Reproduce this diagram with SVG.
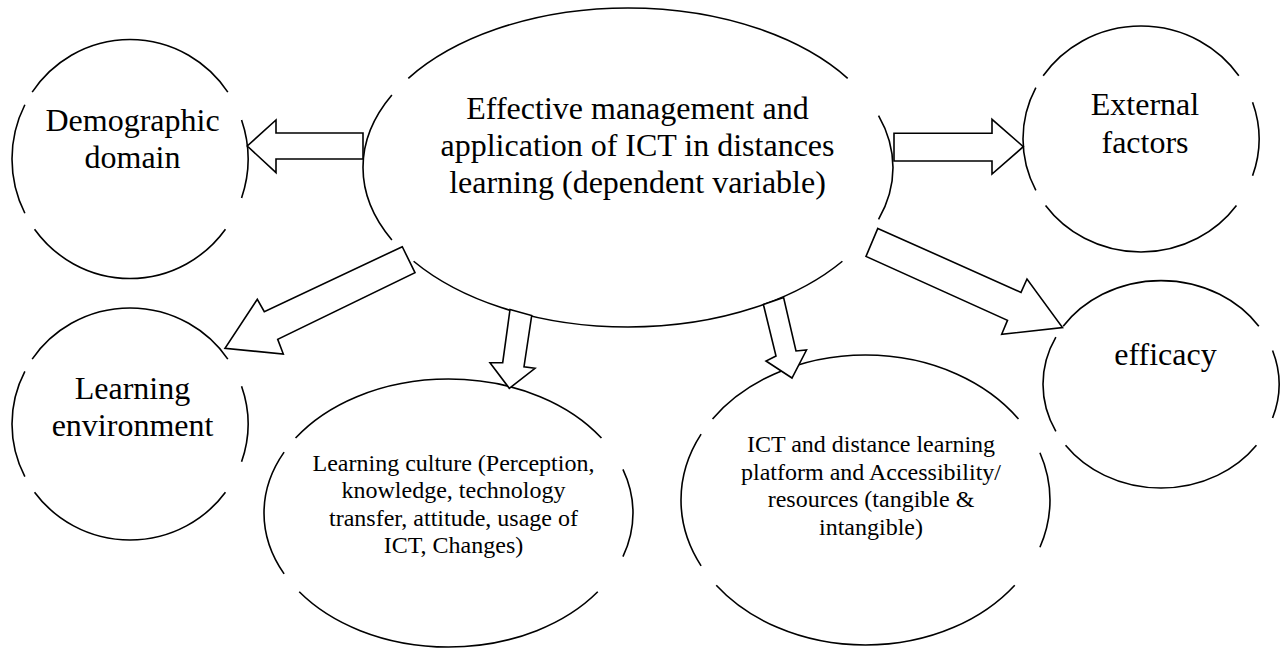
<svg xmlns="http://www.w3.org/2000/svg" width="1288" height="649" viewBox="0 0 1288 649">
  <style>
    .ring { fill: none; stroke: #000; stroke-width: 1.6; stroke-linecap: butt; }
    .block { fill: #fff; stroke: #000; stroke-width: 1.6; stroke-linejoin: miter; }
    text { font-family: "Liberation Serif", "Times New Roman", serif; fill: #000; text-anchor: middle; }
    .big { font-size: 32px; }
    .small { font-size: 24px; }
  </style>
  <rect width="1288" height="649" fill="#fff"/>

  <!-- Each ellipse outline is drawn as four arcs with small breaks between them -->
  <g id="node-demographic">
    <path class="ring" d="M227.82,92.18 A118,119.5 0 0 0 32.18,92.18 M24.86,104.75 A118,119.5 0 0 0 24.86,213.25 M34.54,229.24 A118,119.5 0 0 0 225.46,229.24 M241.57,197.91 A118,119.5 0 0 0 241.57,120.09"/>
    <text class="big" x="132.5" y="130.5">Demographic</text>
    <text class="big" x="132.5" y="168">domain</text>
  </g>

  <g id="node-central">
    <path class="ring" d="M847.69,78.31 A265,159.5 0 0 0 408.31,78.31 M391.88,95.09 A265,159.5 0 0 0 391.88,239.91 M413.61,261.25 A265,159.5 0 0 0 842.39,261.25 M878.56,219.43 A265,159.5 0 0 0 878.56,115.57"/>
    <text class="big" x="637.5" y="119">Effective management and</text>
    <text class="big" x="637.5" y="156">application of ICT in distances</text>
    <text class="big" x="637.5" y="193">learning (dependent variable)</text>
  </g>

  <g id="node-external">
    <path class="ring" d="M1238.82,75.81 A118,113 0 0 0 1043.18,75.81 M1035.86,87.7 A118,113 0 0 0 1035.86,190.3 M1045.54,205.42 A118,113 0 0 0 1236.46,205.42 M1252.57,175.79 A118,113 0 0 0 1252.57,102.21"/>
    <text class="big" x="1145" y="115">External</text>
    <text class="big" x="1145" y="152.5">factors</text>
  </g>

  <g id="node-environment">
    <path class="ring" d="M227.82,359.13 A118,116 0 0 0 32.18,359.13 M24.86,371.34 A118,116 0 0 0 24.86,476.66 M34.54,492.18 A118,116 0 0 0 225.46,492.18 M241.57,461.77 A118,116 0 0 0 241.57,386.23"/>
    <text class="big" x="132.5" y="398.5">Learning</text>
    <text class="big" x="132.5" y="436">environment</text>
  </g>

  <g id="node-culture">
    <path class="ring" d="M601.45,438.07 A184.5,134 0 0 0 295.55,438.07 M284.11,452.16 A184.5,134 0 0 0 284.11,573.84 M299.24,591.77 A184.5,134 0 0 0 597.76,591.77 M622.94,556.63 A184.5,134 0 0 0 622.94,469.37"/>
    <text class="small" x="453.5" y="470.5">Learning culture (Perception,</text>
    <text class="small" x="453.5" y="498">knowledge, technology</text>
    <text class="small" x="453.5" y="525.5">transfer, attitude, usage of</text>
    <text class="small" x="453.5" y="553">ICT, Changes)</text>
  </g>

  <g id="node-platform">
    <path class="ring" d="M1018.45,418.92 A184.5,145 0 0 0 712.55,418.92 M701.11,434.17 A184.5,145 0 0 0 701.11,565.83 M716.24,585.23 A184.5,145 0 0 0 1014.76,585.23 M1039.94,547.21 A184.5,145 0 0 0 1039.94,452.79"/>
    <text class="small" x="871" y="452">ICT and distance learning</text>
    <text class="small" x="871" y="479.6">platform and Accessibility/</text>
    <text class="small" x="871" y="507.2">resources (tangible &amp;</text>
    <text class="small" x="871" y="534.8">intangible)</text>
  </g>

  <g id="node-efficacy">
    <path class="ring" d="M1258.82,326.31 A118,103.7 0 0 0 1063.18,326.31 M1055.86,337.22 A118,103.7 0 0 0 1055.86,431.38 M1065.54,445.25 A118,103.7 0 0 0 1256.46,445.25 M1272.57,418.07 A118,103.7 0 0 0 1272.57,350.53"/>
    <text class="big" x="1165.5" y="365">efficacy</text>
  </g>

  <!-- Hollow block arrows leading out of the central ellipse -->
  <g id="connectors">
    <polygon class="block" points="363,133 276,133 276,120 247.3,146 276,172.7 276,159 363,159"/>
    <polygon class="block" points="894,133.3 992,133.3 992,119.3 1023.3,146.7 992,174 992,161 894,161"/>
    <polygon class="block" points="402.3,246.7 264.3,311.7 257.3,299.3 225,348.3 283.3,354 277.7,339.3 415,272.7"/>
    <polygon class="block" points="510,309.5 502.7,362.7 490,362.7 509.3,388.3 535,368.3 524,366.7 531.7,315.5"/>
    <polygon class="block" points="763.4,304.5 776,356 766,361 792,378 806.5,350 796,351 783.6,297.5"/>
    <polygon class="block" points="877.8,228.4 1021,292.4 1027,279 1062.5,327.5 1001.7,334.3 1007.5,320.3 866,256.4"/>
  </g>
</svg>
